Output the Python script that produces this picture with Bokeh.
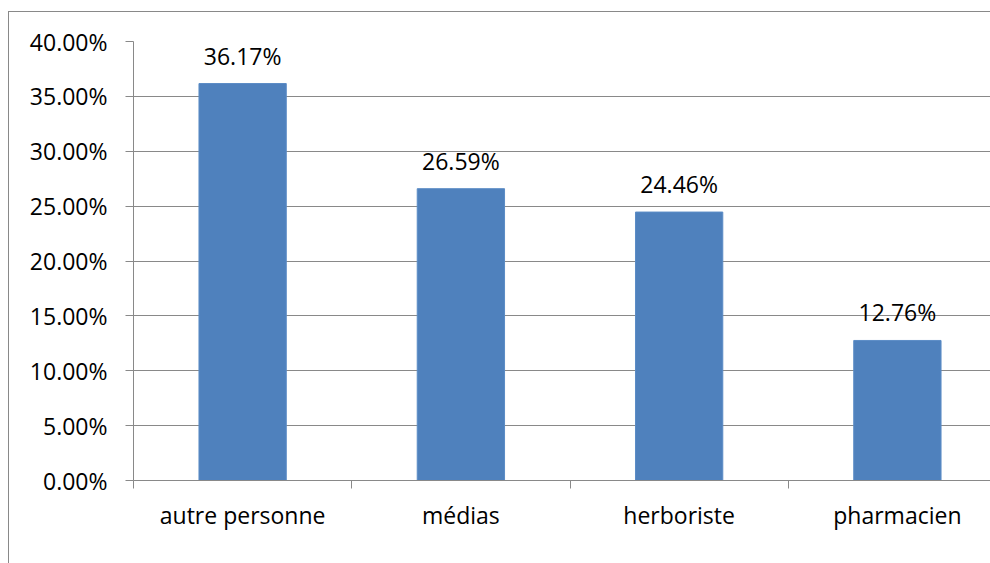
from bokeh.plotting import figure
from bokeh.models import ColumnDataSource, Range1d, FixedTicker, NumeralTickFormatter
from bokeh.core.properties import value
from bokeh.embed import file_html
from bokeh.resources import INLINE

categories = ["autre personne", "médias", "herboriste", "pharmacien"]
shares = [0.3617, 0.2659, 0.2446, 0.1276]
y_ticks = [0.0, 0.05, 0.10, 0.15, 0.20, 0.25, 0.30, 0.35, 0.40]

FONT = "Open Sans"
GREY = "#898989"
BAR = "#4F81BD"

n = len(categories)
xs = [i + 0.5 for i in range(n)]
labels = [f"{v * 100:.2f}%" for v in shares]
src = ColumnDataSource(dict(x=xs, top=shares, label=labels))

p = figure(width=982, height=552, output_backend="svg", toolbar_location=None,
           x_range=Range1d(0, (990 - 133) / 218), y_range=Range1d(0, 0.40),
           min_border_left=124, min_border_top=29, min_border_bottom=84, min_border_right=0)
p.styles = {"border-left": f"1px solid {GREY}", "border-top": f"1px solid {GREY}",
            "margin-top": "11px", "margin-left": "8px"}
p.outline_line_color = None
p.background_fill_color = "white"
p.border_fill_color = "white"

p.vbar(x="x", top="top", width=0.4, bottom=0, source=src,
       fill_color=BAR, line_color="#5B8CC6", line_width=1)
p.text(x="x", y="top", text="label", source=src, text_align="center",
       text_baseline="alphabetic", y_offset=-28, text_font=value(FONT),
       text_font_size="23px", text_color="black")

# x axis
p.xaxis.ticker = FixedTicker(ticks=xs, minor_ticks=list(range(n + 1)))
p.xaxis.major_label_overrides = {x: c for x, c in zip(xs, categories)}
p.xaxis.major_tick_out = 0
p.xaxis.major_tick_in = 0
p.xaxis.minor_tick_out = 8
p.xaxis.minor_tick_in = 0
p.xaxis.minor_tick_line_color = GREY
p.xaxis.axis_line_color = GREY
p.xaxis.major_label_standoff = 10
p.xaxis.major_label_text_font = FONT
p.xaxis.major_label_text_font_size = "23px"
p.xaxis.major_label_text_color = "black"

# y axis
p.yaxis.ticker = FixedTicker(ticks=y_ticks, minor_ticks=[])
p.yaxis.formatter = NumeralTickFormatter(format="0.00%")
p.yaxis.major_tick_out = 8
p.yaxis.major_tick_in = 0
p.yaxis.major_tick_line_color = GREY
p.yaxis.axis_line_color = GREY
p.yaxis.major_label_standoff = 18
p.yaxis.major_label_text_font = FONT
p.yaxis.major_label_text_font_size = "23px"
p.yaxis.major_label_text_color = "black"

p.xgrid.grid_line_color = None
p.ygrid.ticker = FixedTicker(ticks=y_ticks)
p.ygrid.grid_line_color = GREY
p.ygrid.grid_line_width = 1

open("out.html", "w").write(file_html(p, INLINE))
